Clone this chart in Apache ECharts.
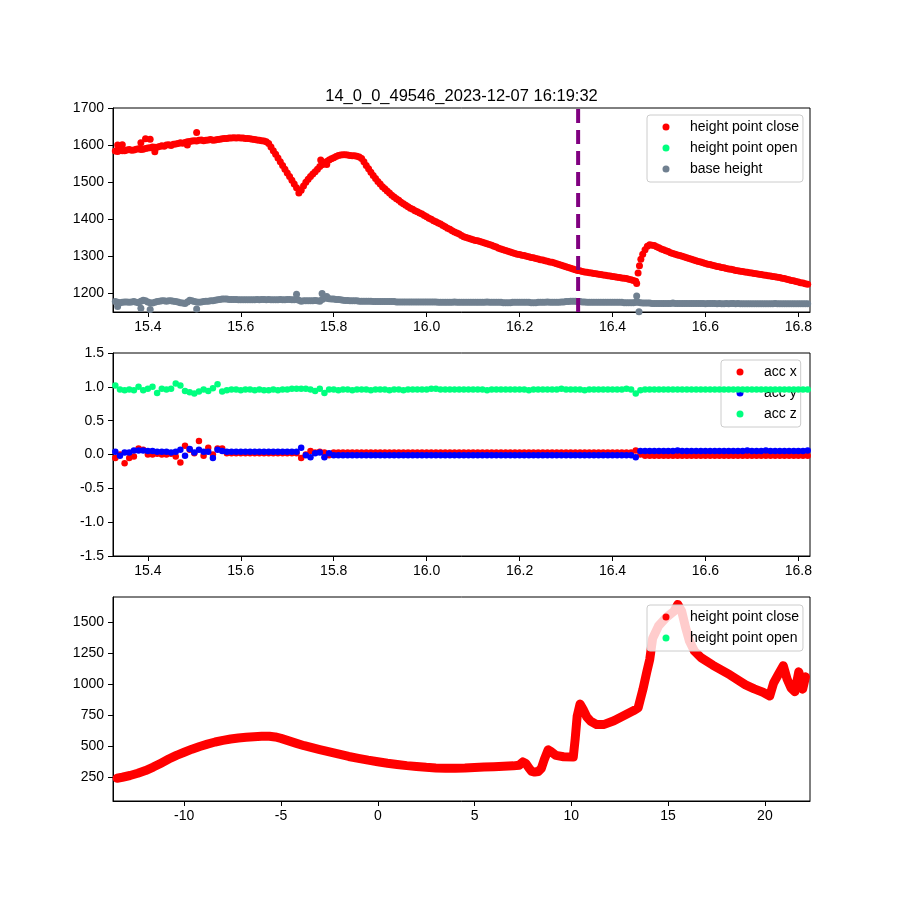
<!DOCTYPE html>
<html><head><meta charset="utf-8">
<script src="https://cdn.jsdelivr.net/npm/echarts@6/dist/echarts.min.js"></script>
<style>html,body{margin:0;padding:0;background:#fff}#c{width:900px;height:900px}</style>
</head><body><div id="c"></div>
<script>
const chartTitle = '14_0_0_49546_2023-12-07 16:19:32';
const legendTop = ['height point close', 'height point open', 'base height'];
const legendAcc = ['acc x', 'acc y', 'acc z'];
const legendBottom = ['height point close', 'height point open'];

const timeTicks = [15.4, 15.6, 15.8, 16.0, 16.2, 16.4, 16.6, 16.8];
const heightTicks = [1200, 1300, 1400, 1500, 1600, 1700];
const accTicks = [-1.5, -1.0, -0.5, 0.0, 0.5, 1.0, 1.5];
const overviewXTicks = [-10, -5, 0, 5, 10, 15, 20];
const overviewYTicks = [250, 500, 750, 1000, 1250, 1500];

const markerTime = 16.326;

const sampleTime = [
15.33,15.34,15.35,15.36,15.37,15.38,15.39,15.40,15.41,15.42,15.43,15.44,15.45,15.46,15.47,15.48,15.49,15.50,15.51,15.52,15.53,15.54,15.55,15.56,
15.57,15.58,15.59,15.60,15.61,15.62,15.63,15.64,15.65,15.66,15.67,15.68,15.69,15.70,15.71,15.72,
15.73,15.74,15.75,15.76,15.77,15.78,15.79,
15.80,15.81,15.82,15.83,15.84,15.85,15.86,15.87,15.88,15.89,15.90,15.91,15.92,15.93,15.94,15.95,15.96,15.97,15.98,15.99,
16.00,16.01,16.02,16.03,16.04,16.05,16.06,16.07,16.08,16.09,16.10,16.11,16.12,16.13,16.14,16.15,16.16,16.17,16.18,16.19,
16.20,16.21,16.22,16.23,16.24,16.25,16.26,16.27,16.28,16.29,16.30,16.31,16.32,16.33,16.34,16.35,16.36,16.37,16.38,16.39,
16.40,16.41,16.42,16.43,16.44,
16.45,16.46,
16.47,16.48,16.49,16.50,16.51,16.52,16.53,16.54,16.55,16.56,16.57,16.58,16.59,16.60,16.61,16.62,16.63,16.64,16.65,16.66,16.67,16.68,16.69,16.70,16.71,16.72,16.73,16.74,16.75,16.76,16.77,16.78,16.79,16.80,16.81,16.82
];
const sampleTimeMid = [
15.335,15.345,15.355,15.365,15.375,15.385,15.395,15.405,15.415,15.425,15.435,15.445,15.455,15.465,15.475,15.485,15.495,15.505,15.515,15.525,15.535,15.545,15.555,
15.565,15.575,15.585,15.595,15.605,15.615,15.625,15.635,15.645,15.655,15.665,15.675,15.685,15.695,15.705,15.715,
15.725,15.735,15.745,15.755,15.765,15.775,15.785,15.795,
15.805,15.815,15.825,15.835,15.845,15.855,15.865,15.875,15.885,15.895,15.905,15.915,15.925,15.935,15.945,15.955,15.965,15.975,15.985,15.995,
16.005,16.015,16.025,16.035,16.045,16.055,16.065,16.075,16.085,16.095,16.105,16.115,16.125,16.135,16.145,16.155,16.165,16.175,16.185,16.195,
16.205,16.215,16.225,16.235,16.245,16.255,16.265,16.275,16.285,16.295,16.305,16.315,16.325,16.335,16.345,16.355,16.365,16.375,16.385,16.395,
16.405,16.415,16.425,16.435,
16.445,16.455,
16.465,16.475,16.485,16.495,16.505,16.515,16.525,16.535,16.545,16.555,16.565,16.575,16.585,16.595,16.605,16.615,16.625,16.635,16.645,16.655,16.665,16.675,16.685,16.695,16.705,16.715,16.725,16.735,16.745,16.755,16.765,16.775,16.785,16.795,16.805,16.815
];

const heightClose = [
[15.33,1584],[15.335,1583],[15.34,1586],[15.345,1585],[15.35,1585],[15.355,1587],[15.36,1588],[15.365,1586],[15.37,1587],[15.375,1589],[15.38,1590],[15.385,1588],[15.39,1589],[15.395,1591],[15.40,1592],[15.405,1593],[15.41,1595],[15.415,1594],[15.42,1594],[15.425,1596],[15.43,1598],[15.435,1597],[15.44,1600],[15.445,1601],[15.45,1599],[15.455,1602],[15.46,1603],[15.465,1604],[15.47,1606],[15.475,1605],[15.48,1607],[15.485,1609],[15.49,1610],[15.495,1611],[15.50,1612],[15.505,1611],[15.51,1613],[15.515,1614],[15.52,1612],[15.525,1613],[15.53,1614],[15.535,1615],[15.54,1613],[15.545,1614],[15.55,1615],[15.555,1616],[15.56,1617],[15.565,1618],[15.57,1618],[15.575,1619],[15.58,1619],[15.585,1620],[15.59,1619],[15.595,1620],[15.60,1619],[15.605,1619],[15.61,1618],[15.615,1618],[15.62,1617],[15.625,1616],[15.63,1615],[15.635,1614],[15.64,1613],[15.645,1612],[15.65,1611],[15.655,1609],[15.66,1604],[15.665,1595],[15.67,1585],[15.675,1575],[15.68,1565],[15.685,1555],[15.69,1545],[15.695,1535],[15.70,1525],[15.705,1515],[15.71,1505],[15.715,1495],[15.72,1485],[15.725,1471],[15.73,1478],[15.735,1490],[15.74,1500],[15.745,1508],[15.75,1515],[15.755,1522],[15.76,1528],[15.765,1535],[15.77,1542],[15.775,1547],[15.78,1552],[15.785,1556],[15.79,1560],[15.795,1563],[15.80,1566],[15.805,1569],[15.81,1572],[15.815,1573],[15.82,1574],[15.825,1574],[15.83,1573],[15.835,1572],[15.84,1571],[15.845,1571],[15.85,1570],[15.855,1568],[15.86,1564],[15.865,1555],[15.87,1545],[15.875,1536],[15.88,1527],[15.885,1518],[15.89,1510],[15.895,1502],[15.90,1495],[15.905,1488],[15.91,1482],[15.915,1476],[15.92,1471],[15.925,1465],[15.93,1460],[15.935,1455],[15.94,1451],[15.945,1446],[15.95,1442],[15.955,1438],[15.96,1434],[15.965,1430],[15.97,1427],[15.975,1423],[15.98,1420],[15.985,1417],[15.99,1414],[15.995,1410],
[16.00,1407],[16.005,1403],[16.01,1400],[16.015,1396],[16.02,1393],[16.025,1390],[16.03,1387],[16.035,1383],[16.04,1380],[16.045,1376],[16.05,1373],[16.055,1369],[16.06,1366],[16.065,1363],[16.07,1360],[16.075,1356],[16.08,1353],[16.085,1351],[16.09,1349],[16.095,1347],[16.10,1345],[16.105,1343],[16.11,1342],[16.115,1340],[16.12,1338],[16.125,1336],[16.13,1334],[16.135,1332],[16.14,1330],[16.145,1327],[16.15,1325],[16.155,1322],[16.16,1320],[16.165,1318],[16.17,1316],[16.175,1314],[16.18,1312],[16.185,1310],[16.19,1308],[16.195,1306],[16.20,1305],[16.205,1303],[16.21,1302],[16.215,1300],[16.22,1299],[16.225,1297],[16.23,1296],[16.235,1294],[16.24,1293],[16.245,1291],[16.25,1290],[16.255,1288],[16.26,1287],[16.265,1285],[16.27,1284],[16.275,1282],[16.28,1280],[16.285,1278],[16.29,1276],[16.295,1274],[16.30,1272],[16.305,1270],[16.31,1268],[16.315,1266],[16.32,1264],[16.325,1262],[16.33,1261],[16.335,1259],[16.34,1258],[16.345,1257],[16.35,1256],[16.355,1255],[16.36,1254],[16.365,1253],[16.37,1252],[16.375,1251],[16.38,1250],[16.385,1249],[16.39,1248],[16.395,1247],[16.40,1246],[16.405,1245],[16.41,1244],[16.415,1243],[16.42,1242],[16.425,1241],[16.43,1240],[16.435,1238],[16.44,1237],[16.445,1235],[16.45,1233],[16.452,1227],[16.455,1255],[16.458,1275],[16.461,1292],[16.465,1306],[16.47,1318],[16.475,1327],[16.48,1331],[16.485,1330],[16.49,1329],[16.495,1326],
[16.50,1323],[16.505,1320],[16.51,1318],[16.515,1315],[16.52,1313],[16.525,1310],[16.53,1308],[16.535,1306],[16.54,1304],[16.545,1302],[16.55,1300],[16.555,1298],[16.56,1296],[16.565,1294],[16.57,1292],[16.575,1290],[16.58,1288],[16.585,1286],[16.59,1285],[16.595,1283],[16.60,1281],[16.605,1279],[16.61,1278],[16.615,1276],[16.62,1275],[16.625,1273],[16.63,1272],[16.635,1270],[16.64,1269],[16.645,1267],[16.65,1266],[16.655,1265],[16.66,1264],[16.665,1262],[16.67,1261],[16.675,1260],[16.68,1259],[16.685,1258],[16.69,1257],[16.695,1256],[16.70,1255],[16.705,1254],[16.71,1253],[16.715,1252],[16.72,1251],[16.725,1250],[16.73,1249],[16.735,1248],[16.74,1247],[16.745,1246],[16.75,1245],[16.755,1244],[16.76,1243],[16.765,1241],[16.77,1240],[16.775,1238],[16.78,1237],[16.785,1235],[16.79,1234],[16.795,1232],[16.80,1231],[16.805,1229],[16.81,1228],[16.815,1226],[16.82,1225]
];
const heightCloseOutliers = [[15.335,1600],[15.345,1601],[15.385,1606],[15.395,1617],[15.405,1616],[15.415,1582],[15.485,1600],[15.505,1634],[15.772,1560],[15.785,1548]];
const heightOpen = [];

const baseHeight = [
1178,1175,1177,1176,1178,1175,1182,1177,1174,1178,1180,1179,1180,1178,1175,1173,1182,1178,1176,1178,1179,1180,1183,1185,
1185,1184,1184,1183,1183,1183,1183,1183,1184,1184,1183,1183,1183,1184,1183,1185,
1179,1180,1180,1181,1179,1188,1186,
1185,1184,1182,1181,1180,1180,1179,1179,1179,1178,1178,1178,1178,1178,1177,1177,1177,1177,1177,1177,
1177,1177,1177,1176,1176,1176,1177,1176,1176,1176,1176,1176,1176,1177,1176,1176,1176,1175,1175,1176,
1176,1176,1176,1175,1176,1176,1177,1176,1176,1177,1178,1179,1179,1178,1177,1176,1176,1176,1176,1176,
1176,1176,1176,1175,1175,
1176,1175,
1174,1174,1173,1173,1173,1173,1174,1173,1173,1173,1173,1173,1173,1172,1173,1173,1173,1172,1172,1173,1173,1172,1172,1172,1172,1172,1172,1172,1173,1172,1172,1172,1172,1172,1172,1172
];
const baseHeightMid = [
1176,1176,1177,1177,1176,1179,1180,1175,1176,1179,1180,1180,1179,1177,1174,1177,1180,1177,1177,1179,1180,1182,1184,
1185,1184,1184,1183,1183,1183,1183,1184,1184,1183,1183,1183,1184,1183,1184,1183,
1182,1180,1180,1180,1180,1184,1187,1185,
1184,1183,1181,1180,1180,1179,1179,1179,1178,1178,1178,1178,1178,1177,1177,1177,1177,1177,1177,1177,
1177,1177,1176,1176,1176,1176,1176,1176,1176,1176,1176,1176,1176,1176,1176,1176,1175,1175,1176,1176,
1176,1176,1175,1175,1176,1176,1176,1176,1176,1177,1178,1179,1178,1177,1176,1176,1176,1176,1176,1176,
1176,1176,1175,1175,
1175,1176,
1174,1174,1173,1173,1173,1173,1173,1173,1173,1173,1173,1173,1173,1173,1173,1173,1172,1172,1173,1173,1172,1172,1172,1172,1172,1172,1172,1172,1172,1172,1172,1172,1172,1172,1172,1172
];
const baseHeightOutliers = [[15.335,1165],[15.385,1160],[15.405,1157],[15.505,1158],[15.72,1198],[15.775,1200],[15.785,1192],[16.452,1193],[16.457,1151]];

const accX = [
-0.05,0.0,-0.13,-0.05,-0.03,0.09,0.07,0.0,0.0,0.01,0.0,0.0,0.01,-0.03,-0.12,0.13,0.07,0.02,0.2,-0.02,0.1,0.0,0.09,0.09,
0.02,0.02,0.02,0.02,0.02,0.02,0.02,0.02,0.02,0.02,0.02,0.02,0.02,0.02,0.02,0.02,
-0.05,0.0,0.05,0.03,0.04,0.03,-0.01,
0.03,0.03,0.03,0.03,0.03,0.03,0.03,0.03,0.03,0.03,0.03,0.03,0.03,0.03,0.03,0.03,0.03,0.03,0.03,0.03,
0.03,0.03,0.03,0.03,0.03,0.03,0.03,0.03,0.03,0.03,0.03,0.03,0.03,0.03,0.03,0.03,0.03,0.03,0.03,0.03,
0.03,0.03,0.03,0.03,0.03,0.03,0.03,0.03,0.03,0.03,0.03,0.03,0.03,0.03,0.03,0.03,0.03,0.03,0.03,0.03,
0.03,0.03,0.03,0.03,0.03,
0.06,0.0,
-0.02,-0.02,-0.02,-0.02,-0.02,-0.02,-0.02,-0.02,-0.02,-0.02,-0.02,-0.02,-0.02,-0.02,-0.02,-0.02,-0.02,-0.02,-0.02,-0.02,-0.02,-0.02,-0.02,-0.02,-0.02,-0.02,-0.02,-0.02,-0.02,-0.02,-0.02,-0.02,-0.02,-0.02,-0.02,-0.02
];
const accY = [
0.04,-0.02,0.03,0.03,0.06,0.06,0.06,0.05,0.05,0.04,0.04,0.04,0.03,0.04,0.07,-0.02,0.08,0.03,0.07,0.04,0.04,-0.05,0.07,0.05,
0.04,0.04,0.04,0.04,0.04,0.04,0.04,0.04,0.04,0.04,0.04,0.04,0.04,0.04,0.04,0.04,
0.1,-0.01,-0.04,0.02,0.03,-0.04,0.02,
-0.01,-0.01,-0.01,-0.01,-0.01,-0.01,-0.01,-0.01,-0.01,-0.01,-0.01,-0.01,-0.01,-0.01,-0.01,-0.01,-0.01,-0.01,-0.01,-0.01,
-0.01,-0.01,-0.01,-0.01,-0.01,-0.01,-0.01,-0.01,-0.01,-0.01,-0.01,-0.01,-0.01,-0.01,-0.01,-0.01,-0.01,-0.01,-0.01,-0.01,
-0.01,-0.01,-0.01,-0.01,-0.01,-0.01,-0.01,-0.01,-0.01,-0.01,-0.01,-0.01,-0.01,-0.01,-0.01,-0.01,-0.01,-0.01,-0.01,-0.01,
-0.01,-0.01,-0.01,-0.01,-0.01,
-0.04,0.05,
0.05,0.05,0.05,0.05,0.05,0.05,0.05,0.06,0.05,0.05,0.05,0.05,0.05,0.05,0.05,0.05,0.05,0.05,0.05,0.05,0.05,0.05,0.06,0.05,0.05,0.05,0.06,0.05,0.05,0.05,0.05,0.05,0.05,0.05,0.05,0.06
];
const accZ = [
1.02,0.96,0.95,0.96,0.95,1.0,0.95,0.97,1.0,0.91,0.97,0.96,0.97,1.05,1.02,0.94,0.92,0.9,0.93,0.96,0.94,0.98,1.04,0.93,
0.95,0.96,0.96,0.95,0.96,0.96,0.95,0.96,0.95,0.95,0.96,0.95,0.96,0.96,0.97,0.97,
0.97,0.97,0.96,0.94,0.97,0.91,0.96,
0.96,0.95,0.96,0.96,0.95,0.96,0.96,0.96,0.95,0.96,0.96,0.96,0.95,0.96,0.96,0.95,0.96,0.96,0.96,0.96,
0.96,0.97,0.97,0.96,0.96,0.96,0.96,0.96,0.96,0.96,0.96,0.96,0.96,0.95,0.96,0.96,0.96,0.96,0.96,0.96,
0.96,0.96,0.95,0.96,0.96,0.96,0.96,0.96,0.96,0.97,0.96,0.96,0.96,0.96,0.95,0.96,0.96,0.96,0.96,0.96,
0.96,0.96,0.96,0.97,0.96,
0.9,0.95,
0.96,0.96,0.96,0.96,0.96,0.96,0.96,0.96,0.96,0.96,0.96,0.96,0.96,0.96,0.96,0.96,0.96,0.96,0.96,0.96,0.96,0.96,0.96,0.96,0.96,0.96,0.96,0.96,0.96,0.96,0.96,0.96,0.96,0.96,0.96,0.96
];

const overviewTrace = [
[-13.47,240],[-13.2,248],[-12.8,262],[-12.4,280],[-12,302],[-11.6,330],[-11.2,362],[-10.8,395],[-10.4,425],[-10,450],[-9.6,475],[-9.2,497],[-8.8,516],[-8.4,533],[-8,546],[-7.6,557],[-7.2,565],[-6.8,571],[-6.4,576],[-6,579],[-5.6,580],[-5.3,574],[-5,562],[-4.6,542],[-4.2,522],[-3.8,503],[-3.4,487],[-3,472],[-2.5,453],[-2,434],[-1.5,416],[-1,401],[-0.5,386],[0,373],[0.5,361],[1,351],[1.5,342],[2,335],[2.5,328],[3,323],[3.5,321],[4,320],[4.5,322],[5,326],[5.5,330],[6,333],[6.5,337],[7,340],[7.3,345],[7.5,372],[7.65,360],[7.8,325],[7.95,295],[8.1,290],[8.3,295],[8.45,320],[8.6,390],[8.8,470],[8.95,455],[9.2,425],[9.6,414],[10.1,412],[10.2,560],[10.3,740],[10.45,840],[10.6,800],[10.8,735],[11.0,700],[11.3,675],[11.7,675],[12.2,705],[12.7,745],[13.2,785],[13.45,808],[13.55,870],[13.7,960],[13.9,1100],[14.05,1200],[14.2,1370],[14.5,1470],[14.9,1540],[15.3,1590],[15.5,1645],[15.7,1590],[15.9,1460],[16.1,1350],[16.35,1270],[16.7,1215],[17.3,1155],[18.2,1075],[19.0,995],[19.45,962],[19.9,935],[20.25,905],[20.45,1010],[20.7,1080],[20.95,1150],[21.15,1040],[21.35,970],[21.55,940],[21.75,1100],[21.95,960],[22.1,1060]
];

const FONT = 'Liberation Sans, Arial, sans-serif';
const RED = '#ff0000', GREEN = '#00ff7f', BLUE = '#0000ff', GREY = '#708090', PURPLE = '#800080';

function pair(times, vals) { return times.map((t, i) => [t, vals[i]]); }

function xAxisCfg(grid, min, max, ticks, fmt) {
  return {
    type: 'value', gridIndex: grid, min: min, max: max,
    axisLine: { show: true, onZero: false, lineStyle: { color: '#000', width: 1 } },
    axisTick: { show: true, length: 5, customValues: ticks, lineStyle: { color: '#000' } },
    axisLabel: { customValues: ticks, margin: 8, color: '#000', fontSize: 14, fontFamily: FONT, formatter: fmt },
    splitLine: { show: false }
  };
}
function yAxisCfg(grid, min, max, ticks, fmt) {
  return {
    type: 'value', gridIndex: grid, min: min, max: max,
    axisLine: { show: true, onZero: false, lineStyle: { color: '#000', width: 1 } },
    axisTick: { show: true, length: 5, customValues: ticks, lineStyle: { color: '#000' } },
    axisLabel: { customValues: ticks, margin: 9, color: '#000', fontSize: 14, fontFamily: FONT, formatter: fmt },
    splitLine: { show: false }
  };
}
function legendCfg(left, top, data) {
  return {
    orient: 'vertical', left: left, top: top, data: data,
    icon: 'circle', itemWidth: 38, itemHeight: 7, itemGap: 7,
    padding: [5, 4, 6, 15.5],
    backgroundColor: 'rgba(255,255,255,0.8)', borderColor: '#cccccc', borderWidth: 1, borderRadius: 3,
    textStyle: { color: '#000', fontSize: 14, lineHeight: 14, fontFamily: FONT },
    selectedMode: false
  };
}
function scatter(name, x, y, data, color, z, size) {
  return { type: 'scatter', name: name, xAxisIndex: x, yAxisIndex: y, data: data,
    symbol: 'circle', symbolSize: size || 6.5, itemStyle: { color: color, opacity: 1 }, z: z || 2, silent: true };
}

const f1 = v => v.toFixed(1);
const f0 = v => String(v);

const chart = echarts.init(document.getElementById('c'), null, { renderer: 'canvas' });
chart.setOption({
  animation: false,
  backgroundColor: '#ffffff',
  graphic: [{ type: 'text', x: 461.5, y: 96, z: 10,
    style: { text: chartTitle, textAlign: 'center', textVerticalAlign: 'middle', verticalAlign: 'middle',
      font: '16.5px Liberation Sans, Arial, sans-serif', fill: '#000' } }],
  grid: [
    { left: 113, top: 108, width: 697, height: 204, show: true, borderColor: '#000', borderWidth: 1, outerBoundsMode: 'none' },
    { left: 113, top: 353, width: 697, height: 203, show: true, borderColor: '#000', borderWidth: 1, outerBoundsMode: 'none' },
    { left: 113, top: 597, width: 697, height: 204, show: true, borderColor: '#000', borderWidth: 1, outerBoundsMode: 'none' }
  ],
  xAxis: [
    xAxisCfg(0, 15.325, 16.825, timeTicks, f1),
    xAxisCfg(1, 15.325, 16.825, timeTicks, f1),
    xAxisCfg(2, -13.68, 22.33, overviewXTicks, f0)
  ],
  yAxis: [
    yAxisCfg(0, 1150, 1700, heightTicks, f0),
    yAxisCfg(1, -1.5, 1.5, accTicks, f1),
    yAxisCfg(2, 56, 1705, overviewYTicks, f0)
  ],
  legend: [
    legendCfg(647, 115, legendTop),
    legendCfg(721, 360, legendAcc),
    legendCfg(647, 605, legendBottom)
  ],
  series: [
    scatter('height point close', 0, 0, heightClose.concat(heightCloseOutliers), RED, 2, 7),
    scatter('height point open', 0, 0, heightOpen, GREEN, 2),
    scatter('base height', 0, 0, pair(sampleTime, baseHeight).concat(pair(sampleTimeMid, baseHeightMid), baseHeightOutliers), GREY, 3, 7),
    { type: 'line', name: 'marker', xAxisIndex: 0, yAxisIndex: 0,
      data: [[markerTime, 1150], [markerTime, 1700]], showSymbol: false, symbol: 'none', silent: true, z: 5,
      lineStyle: { color: PURPLE, width: 4, type: [14, 7] } },
    scatter('acc x', 1, 1, pair(sampleTime, accX), RED, 2),
    scatter('acc y', 1, 1, pair(sampleTime, accY), BLUE, 3),
    scatter('acc z', 1, 1, pair(sampleTime, accZ), GREEN, 4),
    { type: 'line', name: 'height point close', xAxisIndex: 2, yAxisIndex: 2, data: overviewTrace,
      showSymbol: false, symbol: 'circle', silent: true, z: 2, itemStyle: { color: RED },
      lineStyle: { color: RED, width: 9, cap: 'round', join: 'round' } },
    { type: 'scatter', name: 'height point open', xAxisIndex: 2, yAxisIndex: 2, data: [], itemStyle: { color: GREEN } }
  ]
});
</script>
</body></html>
